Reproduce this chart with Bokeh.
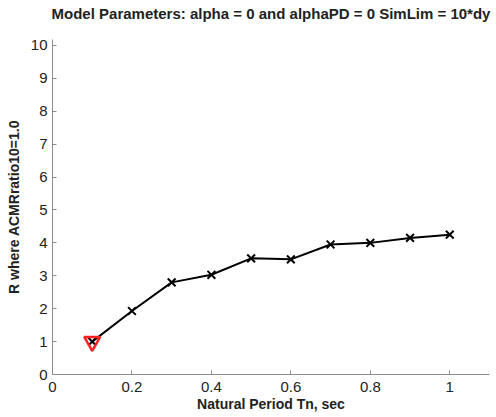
from bokeh.plotting import figure
from bokeh.models import Range1d, FixedTicker, Title
from bokeh.embed import file_html
from bokeh.resources import INLINE

periods = [0.1, 0.2, 0.3, 0.4, 0.5, 0.6, 0.7, 0.8, 0.9, 1.0]
r_values = [1.0, 1.93, 2.8, 3.03, 3.53, 3.5, 3.95, 4.0, 4.15, 4.25]
flag_x = [0.1]
flag_y = [1.0]
x_ticks = [0, 0.2, 0.4, 0.6, 0.8, 1.0]
y_ticks = list(range(0, 11))

p = figure(width=496, height=417, output_backend="svg", toolbar_location=None,
           x_range=Range1d(0, 1.1), y_range=Range1d(0, 10.18),
           min_border_left=52, min_border_right=7, min_border_top=39, min_border_bottom=43)
p.outline_line_color = None
p.grid.visible = False
p.background_fill_color = "white"
p.border_fill_color = "white"

p.title.text = "Model Parameters: alpha = 0 and alphaPD = 0 SimLim = 10*dy"
p.title.text_font = "Liberation Sans"
p.title.text_font_size = "15px"
p.title.text_font_style = "bold"
p.title.align = "center"
p.title.text_color = "#222222"
p.title.standoff = 0

# spacer between title and frame
spacer = Title(text=" ", text_font_size="14px", standoff=0)
p.add_layout(spacer, "above")

p.xaxis.axis_label = "Natural Period Tn, sec"
p.yaxis.axis_label = "R where ACMRratio10=1.0"
p.xaxis.ticker = FixedTicker(ticks=x_ticks)
p.yaxis.ticker = FixedTicker(ticks=y_ticks)
p.xaxis.major_label_overrides = {0: "0", 0.2: "0.2", 0.4: "0.4", 0.6: "0.6", 0.8: "0.8", 1.0: "1"}
for ax in (p.xaxis, p.yaxis):
    ax.axis_line_color = "#8c8c8c"
    ax.major_tick_line_color = "#8c8c8c"
    ax.major_tick_in = 4
    ax.major_tick_out = 0
    ax.minor_tick_line_color = None
    ax.major_label_text_font = "Liberation Sans"
    ax.major_label_text_font_size = "15px"
    ax.major_label_text_color = "#222222"
    ax.axis_label_text_font = "Liberation Sans"
    ax.axis_label_text_font_size = "14px"
    ax.axis_label_text_font_style = "bold"
    ax.axis_label_text_color = "#222222"
p.xaxis.major_label_standoff = 7
p.yaxis.major_label_standoff = 5
p.xaxis.axis_label_standoff = 1
p.yaxis.axis_label_standoff = 6

p.line(periods, r_values, line_color="black", line_width=2)
p.scatter(periods, r_values, marker="x", size=11, line_color="black", line_width=2)
p.scatter(flag_x, flag_y, marker="inverted_triangle", size=16, fill_color=None,
          line_color="#ff2020", line_width=2.5)

open("out.html", "w").write(file_html(p, INLINE))
